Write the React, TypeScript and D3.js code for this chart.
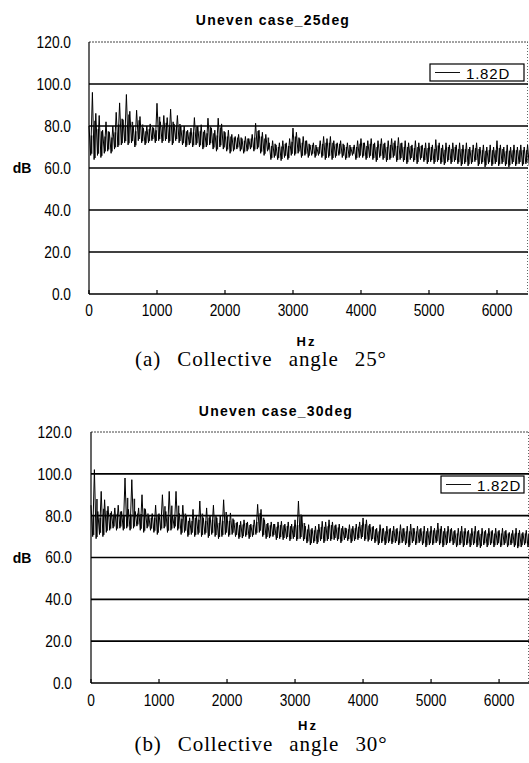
import React from "react";
import * as d3 from "d3";

// ---- data (50 Hz bins: upper and lower envelope of the spectrum, dB) ----
const BIN_HZ = 50;

const hi25 = [
  80, 96, 86, 85, 78, 82, 77, 80, 86.5, 91,
  83, 95, 87, 80, 87.5, 84.5, 79, 80, 81, 79,
  90.8, 82, 85, 84, 88, 81, 85, 80, 80, 78,
  79, 84, 80, 80.6, 78, 83.7, 79, 78, 83.7, 81,
  77, 78, 76, 75, 76, 74, 75, 74, 76, 81.3,
  78, 77, 76, 72, 73, 71, 72, 73, 72, 74,
  79, 77, 74, 75, 73, 71, 72, 70, 73, 75,
  74, 75, 73, 72, 73, 71, 72, 70, 71, 73,
  74, 72, 73, 74, 72, 73, 74, 72, 73, 74,
  73, 74.5, 72, 73, 72, 71, 73, 72, 71, 72,
  72, 71, 73.5, 72, 71, 72, 71, 72, 71, 72,
  71, 72, 70, 71, 72, 70, 71, 70, 71, 70,
  73, 71, 70, 71, 70, 71, 70, 71, 70, 71,
];
const lo25 = [
  66, 64, 66, 65, 67, 68, 67, 69, 70, 71,
  72, 71, 72, 70, 73, 72, 71, 72, 73, 72,
  73, 72, 73, 72, 71, 73, 72, 71, 70, 71,
  70, 71, 70, 69, 70, 71, 69, 68, 70, 69,
  68, 67, 68, 69, 68, 67, 68, 69, 68, 69,
  67, 66, 68, 64, 65, 64, 63.5, 65, 64, 66,
  66, 67, 65, 66, 65, 66, 65, 66, 65, 64,
  65, 64, 65, 66, 65, 64, 65, 66, 64, 65,
  65, 64, 65, 64, 63, 65, 64, 63, 64, 65,
  63, 64, 63, 62, 64, 63, 62, 64, 63, 62,
  63, 62, 63, 62, 61.5, 63, 62, 63, 62, 61,
  62, 61, 62, 63, 61, 62, 60.5, 62, 61, 62,
  61, 62, 61, 60.5, 62, 61, 62, 61, 62, 61,
];

const hi30 = [
  85, 102, 82, 91.6, 87.6, 84.5, 82, 83.7, 85, 82,
  98, 83, 97.2, 82, 83.7, 90, 83, 80, 81, 85,
  81, 90, 82, 91.6, 80, 91.6, 81, 85, 80, 79,
  83, 80, 87, 79, 83.7, 80, 85, 79, 80, 87.6,
  80, 81.3, 78, 77, 77.3, 78, 77, 76, 78, 85.4,
  83, 78, 76.5, 77, 76, 77, 77.3, 76, 77, 76,
  78, 87, 80, 75, 75.7, 74, 75, 76, 77.3, 77,
  78, 77, 75.7, 76, 75, 74, 75.7, 75, 76, 77,
  78.9, 78, 76, 75, 74, 75.7, 74, 75, 74, 75,
  74, 75.7, 74, 75, 76, 74, 75, 74, 75, 74,
  75, 74, 76.5, 75, 74, 75, 74, 73, 74, 75,
  74, 73, 74, 75, 73, 74, 73, 74, 73, 74,
  73, 74, 73, 72, 73, 74, 73, 72, 73, 72,
];
const lo30 = [
  70, 69, 71, 70, 72, 73, 74, 73, 74, 73,
  74, 73, 74, 75, 73, 72, 74, 73, 72, 71,
  73, 74, 72, 73, 74, 73, 71, 72, 70, 71,
  70, 71, 70, 71, 69.5, 71, 70, 69, 70, 71,
  70, 71, 70, 69, 69.3, 70, 69, 70, 71, 72,
  70, 69, 69.3, 70, 68.5, 69, 68.5, 69, 68, 69,
  68, 69, 68, 66.9, 66, 67, 66.5, 68, 67, 68,
  68, 68.5, 68, 67, 68.5, 68, 67, 68, 68.5, 69,
  68, 67.7, 68, 67, 66, 67, 66, 67, 66.5, 67,
  66, 67, 66, 65, 67, 66, 67, 66, 65, 66,
  66, 67, 66, 65, 66, 67, 66, 65, 66, 65,
  66, 65, 66, 65, 64.6, 66, 65, 66, 65, 66,
  65, 66, 65, 66, 65, 64.5, 65, 66, 65, 65,
];

const yTicks = [0, 20, 40, 60, 80, 100, 120];
const xTicks = [0, 1000, 2000, 3000, 4000, 5000, 6000];
const seriesName = "1.82D";

const panels = [
  {
    title: "Uneven case_25deg",
    caption: "(a) Collective angle 25°",
    hi: hi25,
    lo: lo25,
    layout: {
      left: 89, right: 528, top: 42, bottom: 294, xMax: 6456,
      titleX: 273, titleY: 20, tickLabelX: 71, xLabelY: 310, hzY: 341,
      captionX: 261, captionY: 366,
      legend: { x: 430, y: 64, w: 94, h: 17 },
    },
  },
  {
    title: "Uneven case_30deg",
    caption: "(b) Collective angle 30°",
    hi: hi30,
    lo: lo30,
    layout: {
      left: 91, right: 529, top: 432, bottom: 683, xMax: 6440,
      titleX: 276, titleY: 411, tickLabelX: 72, xLabelY: 700, hzY: 725,
      captionX: 261, captionY: 751,
      legend: { x: 441, y: 476, w: 83, h: 17 },
    },
  },
];

const SANS = "'Liberation Sans', Arial, sans-serif";
const SERIF = "'Liberation Serif', 'Times New Roman', serif";

function Panel({ p }: { p: (typeof panels)[number] }) {
  const L = p.layout;
  const x = d3.scaleLinear().domain([0, L.xMax]).range([L.left, L.right]);
  const y = d3.scaleLinear().domain([0, 120]).range([L.bottom, L.top]);

  const pts: [number, number][] = [];
  p.hi.forEach((h, i) => {
    pts.push([x(i * BIN_HZ), y(h)]);
    pts.push([x(i * BIN_HZ + BIN_HZ / 2), y(p.lo[i])]);
  });
  const line = d3.line<[number, number]>()(pts) || "";

  const lg = L.legend;
  return (
    <g>
      <text x={L.titleX} y={L.titleY} textAnchor="middle" dominantBaseline="central"
        fontFamily={SANS} fontWeight="bold" fontSize={14} letterSpacing={1.2}>{p.title}</text>

      {/* plot border (top/right dotted) */}
      <line x1={L.left} x2={L.right} y1={y(120)} y2={y(120)} stroke="#444" strokeWidth={1} strokeDasharray="2,1" />
      <line x1={L.right - 0.5} x2={L.right - 0.5} y1={y(120)} y2={y(0)} stroke="#666" strokeWidth={1} strokeDasharray="1,2" />

      {/* gridlines */}
      {yTicks.filter((t) => t > 0 && t < 120).map((t) => (
        <line key={t} x1={L.left} x2={L.right} y1={y(t)} y2={y(t)} stroke="#000" strokeWidth={1.6} />
      ))}

      {/* series: per-bin span plus zigzag trace */}
      {p.hi.map((h, i) => (
        <line key={i} x1={x(i * BIN_HZ + BIN_HZ * 0.75)} x2={x(i * BIN_HZ + BIN_HZ * 0.75)}
          y1={y(p.lo[i] + 0.8)} y2={y((h + p.lo[i]) / 2 + 2.5 < h ? (h + p.lo[i]) / 2 + 2.5 : h)}
          stroke="#1a1a1a" strokeWidth={1.6} />
      ))}
      <path d={line} fill="none" stroke="#000" strokeWidth={1} />

      {/* axes */}
      <line x1={L.left} x2={L.left} y1={y(120)} y2={y(0)} stroke="#000" strokeWidth={1.2} />
      <line x1={L.left} x2={L.right} y1={y(0)} y2={y(0)} stroke="#000" strokeWidth={1.6} />
      {xTicks.map((t) => (
        <line key={t} x1={x(t)} x2={x(t)} y1={y(0)} y2={y(0) - 4} stroke="#000" strokeWidth={1.2} />
      ))}

      {/* y tick labels */}
      {yTicks.map((t) => (
        <text key={t} transform={`translate(${L.tickLabelX},${y(t)}) scale(0.86,1)`} textAnchor="end"
          dominantBaseline="central" fontFamily={SANS} fontSize={16}>{t.toFixed(1)}</text>
      ))}
      <text x={22} y={y(60)} textAnchor="middle" dominantBaseline="central" fontFamily={SANS}
        fontWeight="bold" fontSize={14}>dB</text>

      {/* x tick labels */}
      {xTicks.map((t) => (
        <text key={t} transform={`translate(${x(t)},${L.xLabelY}) scale(0.86,1)`} textAnchor="middle"
          dominantBaseline="central" fontFamily={SANS} fontSize={16}>{t}</text>
      ))}
      <text x={(L.left + L.right) / 2 - 2} y={L.hzY} textAnchor="middle" dominantBaseline="central"
        fontFamily={SANS} fontWeight="bold" fontSize={13} letterSpacing={2}>Hz</text>

      {/* legend */}
      <rect x={lg.x} y={lg.y} width={lg.w} height={lg.h} fill="#fff" stroke="#000" strokeWidth={1.2} />
      <line x1={lg.x + 5} x2={lg.x + 30} y1={lg.y + lg.h / 2} y2={lg.y + lg.h / 2} stroke="#111" strokeWidth={1} />
      <text x={lg.x + 36} y={lg.y + lg.h / 2 + 0.5} dominantBaseline="central" fontFamily={SANS}
        fontSize={15} letterSpacing={0.8}>{seriesName}</text>

      {/* caption */}
      <text x={L.captionX} y={L.captionY} textAnchor="middle" fontFamily={SERIF} fontSize={21}
        letterSpacing={0.9} wordSpacing={10}>{p.caption}</text>
    </g>
  );
}

export default function App() {
  return (
    <svg width={529} height={763} style={{ position: "absolute", left: 0, top: 0, background: "#fff" }}>
      <rect x={0} y={0} width={529} height={763} fill="#fff" />
      {panels.map((p) => (
        <Panel key={p.title} p={p} />
      ))}
    </svg>
  );
}
